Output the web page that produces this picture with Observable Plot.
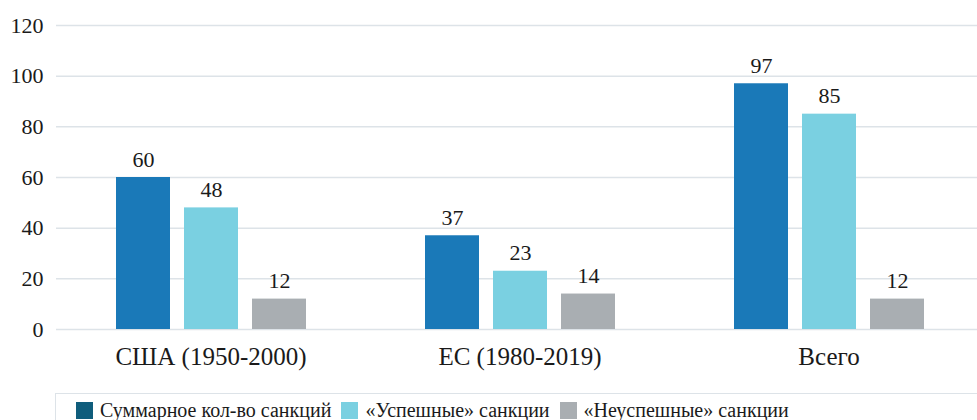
<!DOCTYPE html>
<html>
<head>
<meta charset="utf-8">
<script src="https://cdn.jsdelivr.net/npm/d3@7"></script>
<script src="https://cdn.jsdelivr.net/npm/@observablehq/plot@0.6"></script>
<style>
  html, body { margin: 0; padding: 0; background: #fff; }
  body { width: 977px; height: 420px; overflow: hidden; font-family: 'Liberation Serif'; }
  #legend { margin-left: 55px; margin-top: 15px; border: 1.5px solid #dde3e8; border-right: none; height: 40px; padding-left: 20px; display: flex; align-items: flex-start; padding-top: 4.5px; box-sizing: border-box; color: #1a1a1a; font-size: 20px; font-family: 'Liberation Serif'; }
  .item { display: flex; align-items: center; margin-right: 10px; }
  .sw { width: 17px; height: 17px; margin-right: 7px; }
  svg text { font-family: 'Liberation Serif'; }
</style>
</head>
<body>
<div id="chart"></div>
<div id="legend"></div>
<script>
const groups = ["США (1950-2000)", "ЕС (1980-2019)", "Всего"];
const series = ["Суммарное кол-во санкций", "«Успешные» санкции", "«Неуспешные» санкции"];
const total = [60, 37, 97];
const successful = [48, 23, 85];
const unsuccessful = [12, 14, 12];
const yTicks = [0, 20, 40, 60, 80, 100, 120];
const barColors = ["#1a79b8", "#7ad0e1", "#a9aeb2"];
const legendColors = ["#0f5d7c", "#7ad0e1", "#a9aeb2"];
const serif = "'Liberation Serif'";

const seriesValues = [total, successful, unsuccessful];
const data = groups.flatMap((g, i) => seriesValues.map((arr, j) => ({group: g, series: series[j], value: arr[i]})));

const chart = Plot.plot({
  width: 977,
  height: 378,
  marginTop: 25,
  marginBottom: 49,
  marginLeft: 57,
  marginRight: 0,
  style: {fontFamily: serif, color: "#1a1a1a", background: "white", overflow: "hidden"},
  fx: {domain: groups, range: [55, 984], padding: 0, label: null, axis: null},
  x: {domain: series, paddingInner: 0.21, paddingOuter: 0.87, axis: null},
  y: {domain: [0, 120], label: null, axis: null},
  color: {domain: series, range: barColors},
  marks: [
    Plot.gridY(yTicks, {stroke: "#dde3e8", strokeOpacity: 1, strokeWidth: 1.5}),
    Plot.axisY(yTicks, {tickSize: 0, tickPadding: 13, fontSize: 22, fontFamily: serif, label: null}),
    Plot.axisFx({anchor: "bottom", tickSize: 0, tickPadding: 18, fontSize: 25, fontFamily: serif, label: null}),
    Plot.barY(data, {fx: "group", x: "series", y: "value", fill: "series"}),
    Plot.text(data, {fx: "group", x: "series", y: "value", text: "value", lineAnchor: "bottom", dy: -11, fontSize: 22, fontFamily: serif})
  ]
});
document.getElementById("chart").appendChild(chart);

const legend = document.getElementById("legend");
series.forEach((s, j) => {
  const item = document.createElement("div");
  item.className = "item";
  const sw = document.createElement("div");
  sw.className = "sw";
  sw.style.background = legendColors[j];
  const label = document.createElement("span");
  label.textContent = s;
  item.appendChild(sw);
  item.appendChild(label);
  legend.appendChild(item);
});
</script>
</body>
</html>
